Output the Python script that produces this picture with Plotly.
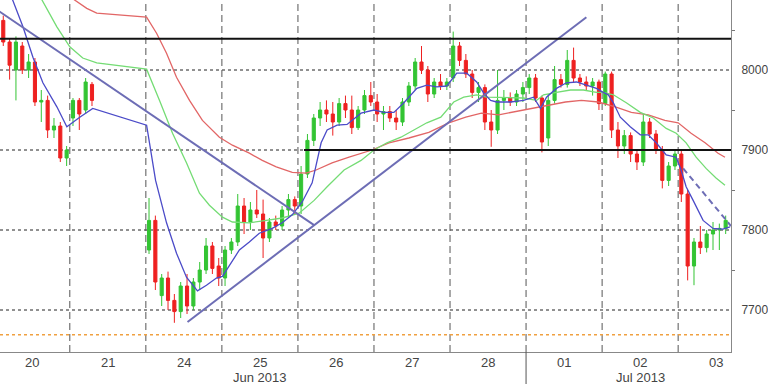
import plotly.graph_objects as go

# ---------------- data ----------------
day_labels = ["20", "21", "24", "25", "26", "27", "28", "01", "02", "03"]
month_labels = ["Jun 2013", "Jul 2013"]
month_label_days = [3, 8]          # day index under which month label sits
month_break_day = 7                # first day of July
y_ticks = [7700, 7800, 7900, 8000]
y_minor = [7750, 7850, 7950, 8050]

bar_hours = 2
seg_a_start_hour = 2    # Jun 20, 02:00
seg_b_start_hour = 48   # Jun 24, 00:00

seg_a_open = [8062, 8035, 8000, 8030, 8000, 8010, 7960, 7962, 7925, 7930, 7890, 7940, 7962, 7950, 7982]
seg_a_high = [8068, 8040, 8042, 8035, 8020, 8015, 7975, 7968, 7940, 7935, 7905, 7965, 7965, 7990, 7985]
seg_a_low = [8030, 7988, 7962, 7995, 7990, 7955, 7935, 7915, 7915, 7885, 7880, 7930, 7925, 7945, 7955]
seg_a_close = [8035, 8006, 8035, 8000, 8010, 7960, 7962, 7925, 7930, 7890, 7900, 7962, 7945, 7985, 7962]

seg_b_open = [7775, 7812, 7718, 7740, 7712, 7698, 7730, 7705, 7735, 7750, 7780, 7755,
              7740, 7775, 7785, 7830, 7810, 7825, 7820, 7790, 7810, 7805, 7825, 7838,
              7830, 7870, 7912, 7940, 7950, 7945, 7935, 7958, 7950, 7928, 7950, 7968,
              7960, 7945, 7948, 7940, 7935, 7960, 7980, 8010, 8000, 7970, 7985, 7980,
              7990, 8030, 8012, 7995, 7972, 7978, 7935, 7925, 7962, 7965, 7960, 7970,
              7978, 7990, 7965, 7915, 7962, 7988, 7982, 8012, 7990, 7985, 7980, 7985,
              7958, 7995, 7925, 7905, 7918, 7895, 7885, 7935, 7920, 7900, 7862, 7880,
              7895, 7845, 7755, 7785, 7778, 7795, 7800, 7802]
seg_b_high = [7840, 7818, 7745, 7748, 7720, 7735, 7745, 7740, 7760, 7790, 7785, 7765,
              7780, 7790, 7845, 7840, 7835, 7850, 7838, 7815, 7818, 7830, 7845, 7842,
              7880, 7920, 7945, 7960, 7962, 7960, 7965, 7968, 7968, 7955, 7975, 7985,
              7970, 7955, 7955, 7950, 7965, 7985, 8015, 8030, 8005, 7990, 7995, 7990,
              8048, 8035, 8020, 8000, 7985, 7982, 7950, 8000, 7975, 7972, 7975, 7985,
              7995, 7995, 7968, 7970, 8005, 7995, 8025, 8028, 7995, 7992, 7990, 7988,
              7998, 7998, 7935, 7925, 7922, 7900, 7945, 7940, 7925, 7905, 7885, 7900,
              7900, 7850, 7790, 7805, 7800, 7810, 7808, 7818]
seg_b_low = [7770, 7725, 7705, 7700, 7684, 7690, 7695, 7700, 7725, 7745, 7745, 7730,
             7730, 7770, 7780, 7795, 7800, 7815, 7765, 7785, 7800, 7800, 7815, 7820,
             7820, 7865, 7905, 7930, 7935, 7918, 7930, 7940, 7920, 7925, 7945, 7955,
             7935, 7925, 7935, 7925, 7930, 7955, 7975, 7995, 7960, 7965, 7975, 7975,
             7985, 8005, 7990, 7965, 7960, 7925, 7904, 7920, 7950, 7955, 7955, 7960,
             7970, 7960, 7897, 7905, 7958, 7978, 7978, 7985, 7980, 7975, 7968, 7950,
             7955, 7915, 7890, 7895, 7885, 7875, 7880, 7915, 7895, 7852, 7855, 7875,
             7835, 7737, 7731, 7770, 7772, 7775, 7775, 7795]
seg_b_close = [7812, 7735, 7740, 7712, 7698, 7730, 7705, 7735, 7750, 7780, 7752, 7740,
               7775, 7785, 7830, 7810, 7825, 7820, 7790, 7810, 7805, 7825, 7838, 7830,
               7870, 7912, 7940, 7950, 7945, 7935, 7958, 7950, 7928, 7950, 7968, 7960,
               7945, 7948, 7940, 7935, 7960, 7980, 8010, 8000, 7970, 7985, 7980, 7985,
               8030, 8012, 7995, 7972, 7978, 7935, 7925, 7962, 7965, 7960, 7970, 7978,
               7990, 7965, 7910, 7962, 7988, 7982, 8012, 7990, 7985, 7980, 7985, 7958,
               7995, 7925, 7905, 7918, 7895, 7885, 7935, 7920, 7900, 7862, 7880, 7895,
               7845, 7755, 7785, 7778, 7795, 7800, 7802, 7812]

# moving averages (time in days from Jun 20 00:00, price)
ma_fast_t = [0.21, 0.384, 0.515, 0.646, 0.83, 0.961, 1.131, 1.302, 2.01, 2.128, 2.272, 2.403,
             2.534, 2.679, 2.797, 2.928, 3.007, 3.138, 3.23, 3.361, 3.492, 3.662, 3.793,
             3.925, 4.056, 4.187, 4.305, 4.384, 4.515, 4.646, 4.83, 5.0, 5.13, 5.262,
             5.393, 5.564, 5.695, 5.826, 5.957, 6.089, 6.22, 6.351, 6.443, 6.534, 6.613,
             6.797, 6.967, 7.098, 7.19, 7.269, 7.4, 7.531, 7.662, 7.793, 7.925, 8.016,
             8.082, 8.148, 8.239, 8.37, 8.502, 8.607, 8.711, 8.843, 8.974, 9.039, 9.105,
             9.197, 9.328, 9.459, 9.59, 9.682]
ma_fast_v = [8097, 8054, 8016, 7984, 7954, 7929, 7941, 7952, 7931, 7862, 7809, 7771,
             7741, 7724, 7731, 7740, 7742, 7762, 7775, 7785, 7796, 7802, 7809,
             7819, 7835, 7859, 7909, 7925, 7931, 7932, 7946, 7950, 7947, 7947,
             7959, 7977, 7981, 7979, 7980, 7996, 7996, 7985, 7971, 7962, 7960,
             7960, 7962, 7966, 7952, 7966, 7977, 7984, 7985, 7981, 7977, 7972,
             7969, 7959, 7941, 7929, 7919, 7919, 7909, 7894, 7891, 7875, 7854,
             7837, 7812, 7802, 7801, 7804]
ma_mid_t = [0.567, 0.83, 1.0, 1.17, 1.354, 2.01, 2.18, 2.351, 2.534, 2.705, 2.836, 3.007,
            3.138, 3.361, 3.584, 3.793, 4.016, 4.213, 4.384, 4.607, 4.83, 5.0, 5.17,
            5.354, 5.525, 5.695, 5.879, 6.049, 6.18, 6.351, 6.482, 6.797, 6.967, 7.138,
            7.23, 7.4, 7.584, 7.754, 7.925, 8.016, 8.148, 8.318, 8.502, 8.672, 8.843,
            8.974, 9.105, 9.236, 9.367, 9.498, 9.616]
ma_mid_v = [8099, 8054, 8029, 8015, 8009, 8001, 7962, 7921, 7884, 7846, 7831, 7816,
            7810, 7809, 7812, 7815, 7821, 7837, 7854, 7875, 7887, 7900, 7909,
            7916, 7925, 7934, 7941, 7960, 7966, 7969, 7966, 7965, 7965, 7962,
            7969, 7972, 7975, 7975, 7972, 7972, 7969, 7959, 7947, 7940, 7927,
            7921, 7909, 7891, 7877, 7865, 7856]
ma_slow_t = [0.934, 1.223, 1.354, 2.01, 2.141, 2.272, 2.403, 2.574, 2.744, 2.967, 3.138,
             3.361, 3.531, 3.715, 3.925, 4.108, 4.239, 4.449, 4.672, 4.974, 5.197,
             5.459, 5.721, 5.984, 6.207, 6.413, 6.639, 6.81, 7.072, 7.295, 7.518,
             7.728, 7.951, 8.174, 8.384, 8.607, 8.825, 9.0, 9.17, 9.354, 9.525, 9.616]
ma_slow_v = [8096, 8077, 8071, 8066, 8046, 8021, 7991, 7962, 7937, 7916, 7906,
             7896, 7887, 7879, 7872, 7871, 7875, 7884, 7891, 7900, 7909,
             7915, 7922, 7934, 7941, 7946, 7944, 7947, 7952, 7956, 7960,
             7962, 7960, 7954, 7947, 7944, 7937, 7934, 7921, 7909, 7896, 7891]

# trend lines (time in days, price)
down_trend_t = [0.0, 4.213]
down_trend_v = [8078, 7806]
up_trend_t = [2.548, 7.793]
up_trend_v = [7685, 8066]
proj_trend_t = [9.066, 9.695]
proj_trend_v = [7877, 7805]

resistance_level = 8039
support_level = 7900
support_start_day = 4.08
orange_level = 7669

x_range = [0.082, 9.695]
y_range = [7647.5, 8087.5]

# ---------------- build ----------------
xa = [(seg_a_start_hour + bar_hours * k + bar_hours / 2) / 24 for k in range(len(seg_a_close))]
xb = [(seg_b_start_hour + bar_hours * j + bar_hours / 2) / 24 for j in range(len(seg_b_close))]

fig = go.Figure()

fig.add_trace(go.Candlestick(
    x=xa + xb,
    open=seg_a_open + seg_b_open,
    high=seg_a_high + seg_b_high,
    low=seg_a_low + seg_b_low,
    close=seg_a_close + seg_b_close,
    increasing=dict(line=dict(color="#33c433", width=1), fillcolor="#33c433"),
    decreasing=dict(line=dict(color="#ee2020", width=1), fillcolor="#ee2020"),
    whiskerwidth=0,
    showlegend=False, hoverinfo="skip",
))

for t, v, c in [(ma_slow_t, ma_slow_v, "#e26666"),
                (ma_mid_t, ma_mid_v, "#74dc74"),
                (ma_fast_t, ma_fast_v, "#4b4bc8")]:
    fig.add_trace(go.Scatter(x=t, y=v, mode="lines", line=dict(color=c, width=1.3),
                             showlegend=False, hoverinfo="skip"))

trend_col = "#6d6db5"
fig.add_trace(go.Scatter(x=down_trend_t, y=down_trend_v, mode="lines",
                         line=dict(color=trend_col, width=2), showlegend=False))
fig.add_trace(go.Scatter(x=up_trend_t, y=up_trend_v, mode="lines",
                         line=dict(color=trend_col, width=2), showlegend=False))
fig.add_trace(go.Scatter(x=proj_trend_t, y=proj_trend_v, mode="lines",
                         line=dict(color=trend_col, width=2, dash="6px,4px"), showlegend=False))

# right-axis arrow markers
px_per_day = 733 / (x_range[1] - x_range[0])
fig.add_trace(go.Scatter(x=[x_range[1] + 4 / px_per_day] * len(y_ticks), y=y_ticks,
                         mode="markers", cliponaxis=False,
                         marker=dict(symbol="triangle-right", size=6, color="#111"),
                         showlegend=False, hoverinfo="skip"))

shapes = []
for v in y_ticks:
    shapes.append(dict(type="line", xref="paper", x0=0, x1=1, yref="y", y0=v, y1=v,
                       line=dict(color="#222", width=1, dash="dot"), layer="below"))
for d in range(1, len(day_labels)):
    shapes.append(dict(type="line", xref="x", x0=d, x1=d, yref="paper", y0=0, y1=1,
                       line=dict(color="#555", width=1, dash="7px,4px"), layer="below"))
shapes.append(dict(type="line", xref="x", x0=month_break_day, x1=month_break_day,
                   yref="paper", y0=0, y1=-0.1, line=dict(color="#555", width=1)))
shapes.append(dict(type="line", xref="paper", x0=0, x1=1, yref="y",
                   y0=resistance_level, y1=resistance_level, line=dict(color="#111", width=2)))
shapes.append(dict(type="line", xref="x", x0=support_start_day, x1=x_range[1], yref="y",
                   y0=support_level, y1=support_level, line=dict(color="#111", width=2)))
shapes.append(dict(type="line", xref="paper", x0=0, x1=1, yref="y",
                   y0=orange_level, y1=orange_level,
                   line=dict(color="#f0a040", width=1.5, dash="dot")))

lbl_font = dict(family="Liberation Sans", size=13, color="#444")
annotations = []
for i, lbl in enumerate(day_labels):
    annotations.append(dict(text=lbl, x=i + 0.5, xref="x", y=-0.029, yref="paper",
                            yanchor="middle", showarrow=False, font=lbl_font))
for lbl, d in zip(month_labels, month_label_days):
    annotations.append(dict(text=lbl, x=d + 0.5, xref="x", y=-0.072, yref="paper",
                            yanchor="middle", showarrow=False, font=lbl_font))

fig.update_layout(
    width=768, height=384,
    margin=dict(l=0, r=35, t=0, b=32),
    paper_bgcolor="white", plot_bgcolor="white",
    shapes=shapes, annotations=annotations,
    showlegend=False,
    xaxis=dict(range=x_range, showticklabels=False, showgrid=False, zeroline=False,
               showline=True, linecolor="#888", linewidth=1, ticks="",
               rangeslider=dict(visible=False)),
    yaxis=dict(range=y_range, side="right", tickvals=y_ticks,
               ticktext=[str(v) for v in y_ticks], showgrid=False, zeroline=False,
               showline=True, linecolor="#888", linewidth=1,
               ticks="", ticklabelstandoff=7,
               minor=dict(tickvals=y_minor, ticks="outside", ticklen=3, tickcolor="#777"),
               tickfont=dict(family="Liberation Sans", size=12, color="#444")),
)

fig.write_html("out.html", config={"displayModeBar": False},
               post_script="document.body.style.margin='0';document.body.style.overflow='hidden';")
